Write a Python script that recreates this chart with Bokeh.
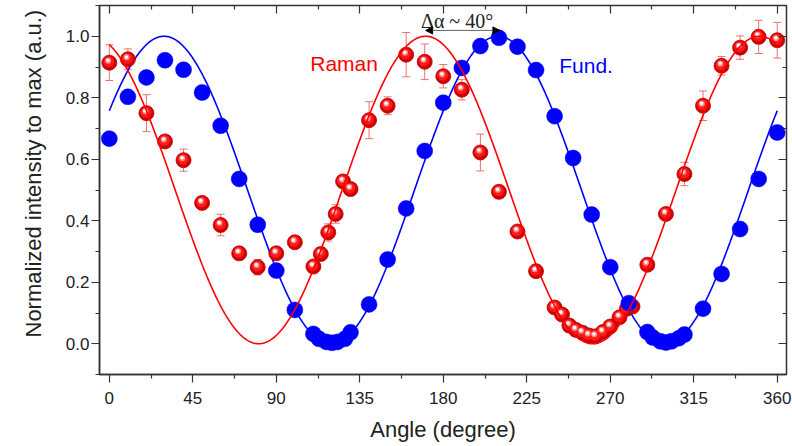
import numpy as np
from bokeh.plotting import figure
from bokeh.models import (Range1d, LinearAxis, FixedTicker, PrintfTickFormatter,
                          CustomJSTickFormatter, Whisker, TeeHead, ColumnDataSource,
                          Title, Arrow, NormalHead)
from bokeh.core.properties import value
from bokeh.embed import file_html
from bokeh.resources import INLINE

# ---- measured data -------------------------------------------------------
fund_angle = [0, 10, 20, 30, 40, 50, 60, 70, 80, 90, 100, 110, 113, 117, 120,
              123, 127, 130, 140, 150, 160, 170, 180, 190, 200, 210, 220, 230,
              240, 250, 260, 270, 280, 290, 293, 297, 300, 303, 307, 310, 320,
              330, 340, 350, 360]
fund_norm = [0.667, 0.803, 0.866, 0.922, 0.891, 0.817, 0.709, 0.536, 0.387,
             0.238, 0.110, 0.032, 0.016, 0.006, 0.003, 0.006, 0.016, 0.037,
             0.128, 0.274, 0.440, 0.627, 0.784, 0.897, 0.968, 0.995, 0.966,
             0.890, 0.740, 0.604, 0.420, 0.249, 0.132, 0.038, 0.020, 0.008,
             0.004, 0.008, 0.018, 0.030, 0.114, 0.227, 0.373, 0.536, 0.687]

raman_angle = [0, 10, 20, 30, 40, 50, 60, 70, 80, 90, 100, 110, 114, 118, 122,
               126, 130, 140, 150, 160, 170, 180, 190, 200, 210, 220, 230, 240,
               244, 248, 251.5, 255, 258.5, 262, 266, 270, 275, 279, 282, 290,
               300, 310, 320, 330, 340, 350, 360]
raman_norm = [0.914, 0.925, 0.750, 0.658, 0.597, 0.458, 0.386, 0.294, 0.249,
              0.294, 0.330, 0.251, 0.292, 0.362, 0.422, 0.528, 0.503, 0.727,
              0.774, 0.940, 0.917, 0.870, 0.826, 0.622, 0.494, 0.365, 0.236,
              0.118, 0.095, 0.059, 0.045, 0.036, 0.027, 0.024, 0.038, 0.056,
              0.086, 0.114, 0.121, 0.257, 0.422, 0.552, 0.774, 0.904, 0.963,
              0.998, 0.987]
raman_err = [0.058, 0.034, 0.060, 0.012, 0.036, 0.012, 0.035, 0.010, 0.025,
             0.010, 0.010, 0.015, 0.020, 0.028, 0.030, 0.012, 0.010, 0.060,
             0.029, 0.072, 0.058, 0.038, 0.033, 0.060, 0.010, 0.008, 0.008,
             0.008, 0.008, 0.008, 0.008, 0.008, 0.008, 0.008, 0.008, 0.008,
             0.008, 0.008, 0.008, 0.012, 0.012, 0.038, 0.048, 0.030, 0.038,
             0.054, 0.058]

# cos^2 fits: angle of maximum (degrees) and amplitude
fund_fit_peak = 29.5
raman_fit_peak = 170.5
fit_amplitude = 1.0
phase_shift = 40

x_ticks = [0, 45, 90, 135, 180, 225, 270, 315, 360]
x_minor = [22.5, 67.5, 112.5, 157.5, 202.5, 247.5, 292.5, 337.5]
y_ticks = [0.0, 0.2, 0.4, 0.6, 0.8, 1.0]
y_minor = [-0.1, 0.1, 0.3, 0.5, 0.7, 0.9, 1.1]

FUND = "#0000ff"
RAMAN = "#ff0000"
AXIS = "#333333"
SANS = "Liberation Sans"

x0, x1 = -5.3, 365.0
y0, y1 = -0.1, 1.1
W, H = 792, 446
BL, BR, BT, BB = 99, 6, 5, 72

p = figure(width=W, height=H, x_range=Range1d(x0, x1), y_range=Range1d(y0, y1),
           output_backend="svg", toolbar_location=None,
           min_border_left=BL, min_border_right=BR, min_border_top=BT,
           min_border_bottom=BB, background_fill_color="white",
           border_fill_color="white")
p.grid.visible = False
p.outline_line_color = AXIS
p.outline_line_width = 1.5

xt = FixedTicker(ticks=x_ticks, minor_ticks=x_minor)
yt = FixedTicker(ticks=y_ticks, minor_ticks=y_minor)

xa = p.xaxis[0]
xa.ticker = xt
xa.axis_label = "Angle (degree)"
ya = p.yaxis[0]
ya.ticker = yt
ya.formatter = PrintfTickFormatter(format="%.1f")

for ax in (xa, ya):
    ax.axis_line_color = AXIS
    ax.axis_line_width = 1.5
    ax.major_tick_line_color = AXIS
    ax.minor_tick_line_color = AXIS
    ax.major_tick_line_width = 1.2
    ax.minor_tick_line_width = 1.2
    ax.major_tick_out = 8
    ax.major_tick_in = 0
    ax.minor_tick_out = 4
    ax.minor_tick_in = 0
    ax.major_label_text_font = SANS
    ax.major_label_text_font_size = "17px"
    ax.major_label_text_color = "#222222"
    ax.axis_label_text_font = SANS
    ax.axis_label_text_font_size = "22px"
    ax.axis_label_text_font_style = "normal"
    ax.axis_label_text_color = "#222222"
xa.major_label_standoff = 9
xa.axis_label_standoff = 10
ya.major_label_standoff = 2

# mirror axes on top and right, ticks pointing inward, no labels
blank = CustomJSTickFormatter(code="return ''")
for loc, tk in (("above", xt), ("right", yt)):
    ax = LinearAxis(ticker=tk, formatter=blank)
    ax.axis_line_color = None
    ax.major_tick_line_color = AXIS
    ax.minor_tick_line_color = AXIS
    ax.major_tick_line_width = 1.2
    ax.minor_tick_line_width = 1.2
    ax.major_tick_in = 8
    ax.major_tick_out = 0
    ax.minor_tick_in = 4
    ax.minor_tick_out = 0
    ax.major_label_standoff = 0
    ax.major_label_text_font_size = "1px"
    p.add_layout(ax, loc)

# y axis title, raised above the frame centre
p.add_layout(Title(text="Normalized intensity to max (a.u.)", align="left",
                   offset=37, standoff=34, text_font=SANS,
                   text_font_size="22px", text_font_style="normal",
                   text_color="#222222"), "left")

# fitted curves
fit_angle = np.linspace(0, 360, 721)
fund_fit = fit_amplitude * np.cos(np.radians(fit_angle - fund_fit_peak)) ** 2
raman_fit = fit_amplitude * np.cos(np.radians(fit_angle - raman_fit_peak)) ** 2

p.line(fit_angle, fund_fit, line_color=FUND, line_width=1.6)

# Raman points with error bars
ra = np.array(raman_angle, dtype=float)
rn = np.array(raman_norm)
re = np.array(raman_err)
err_src = ColumnDataSource(dict(x=ra, lo=rn - re, hi=rn + re))
err_col = "#f07070"
p.add_layout(Whisker(base="x", lower="lo", upper="hi", source=err_src,
                     line_color=err_col, line_width=1,
                     lower_head=TeeHead(size=8, line_color=err_col, line_width=1),
                     upper_head=TeeHead(size=8, line_color=err_col, line_width=1)))

# shaded spheres: pixel offsets converted to data units
dx = (x1 - x0) / (W - BL - BR)
dy = (y1 - y0) / (H - BT - BB)
p.scatter(ra, rn, size=15, fill_color="#d00000", line_color="#c00000", line_width=0.8)
p.scatter(ra - 0.6 * dx, rn + 1.0 * dy, size=11, fill_color="#ff1a1a", line_color=None)
p.scatter(ra - 1.2 * dx, rn + 2.0 * dy, size=6, fill_color="#ff8a8a", line_color=None)
p.scatter(ra - 1.5 * dx, rn + 2.4 * dy, size=3.5, fill_color="#ffffff", line_color=None)

# fundamental points
p.scatter(fund_angle, fund_norm, size=16, fill_color=FUND, line_color=FUND, line_width=0.5)

p.line(fit_angle, raman_fit, line_color=RAMAN, line_width=1.6)

# phase shift between the two maxima
p.add_layout(Arrow(x_start=raman_fit_peak, x_end=raman_fit_peak + phase_shift,
                   y_start=1.019, y_end=1.019, line_color="#666666", line_width=1,
                   start=NormalHead(size=7, fill_color="black", line_color="black"),
                   end=NormalHead(size=7, fill_color="black", line_color="black")))
p.text(x=[168], y=[1.05], text=["\u0394\u03b1 ~ 40\u00b0"],
       text_font=value("Liberation Serif"), text_font_size="20px",
       text_color="#222222", text_align="left", text_baseline="alphabetic")

p.text(x=[108.3], y=[0.911], text=["Raman"], text_font=value(SANS),
       text_font_size="21px", text_color=RAMAN, text_align="left",
       text_baseline="alphabetic")
p.text(x=[242.5], y=[0.904], text=["Fund."], text_font=value(SANS),
       text_font_size="21px", text_color=FUND, text_align="left",
       text_baseline="alphabetic")

open("out.html", "w").write(file_html(p, INLINE))
